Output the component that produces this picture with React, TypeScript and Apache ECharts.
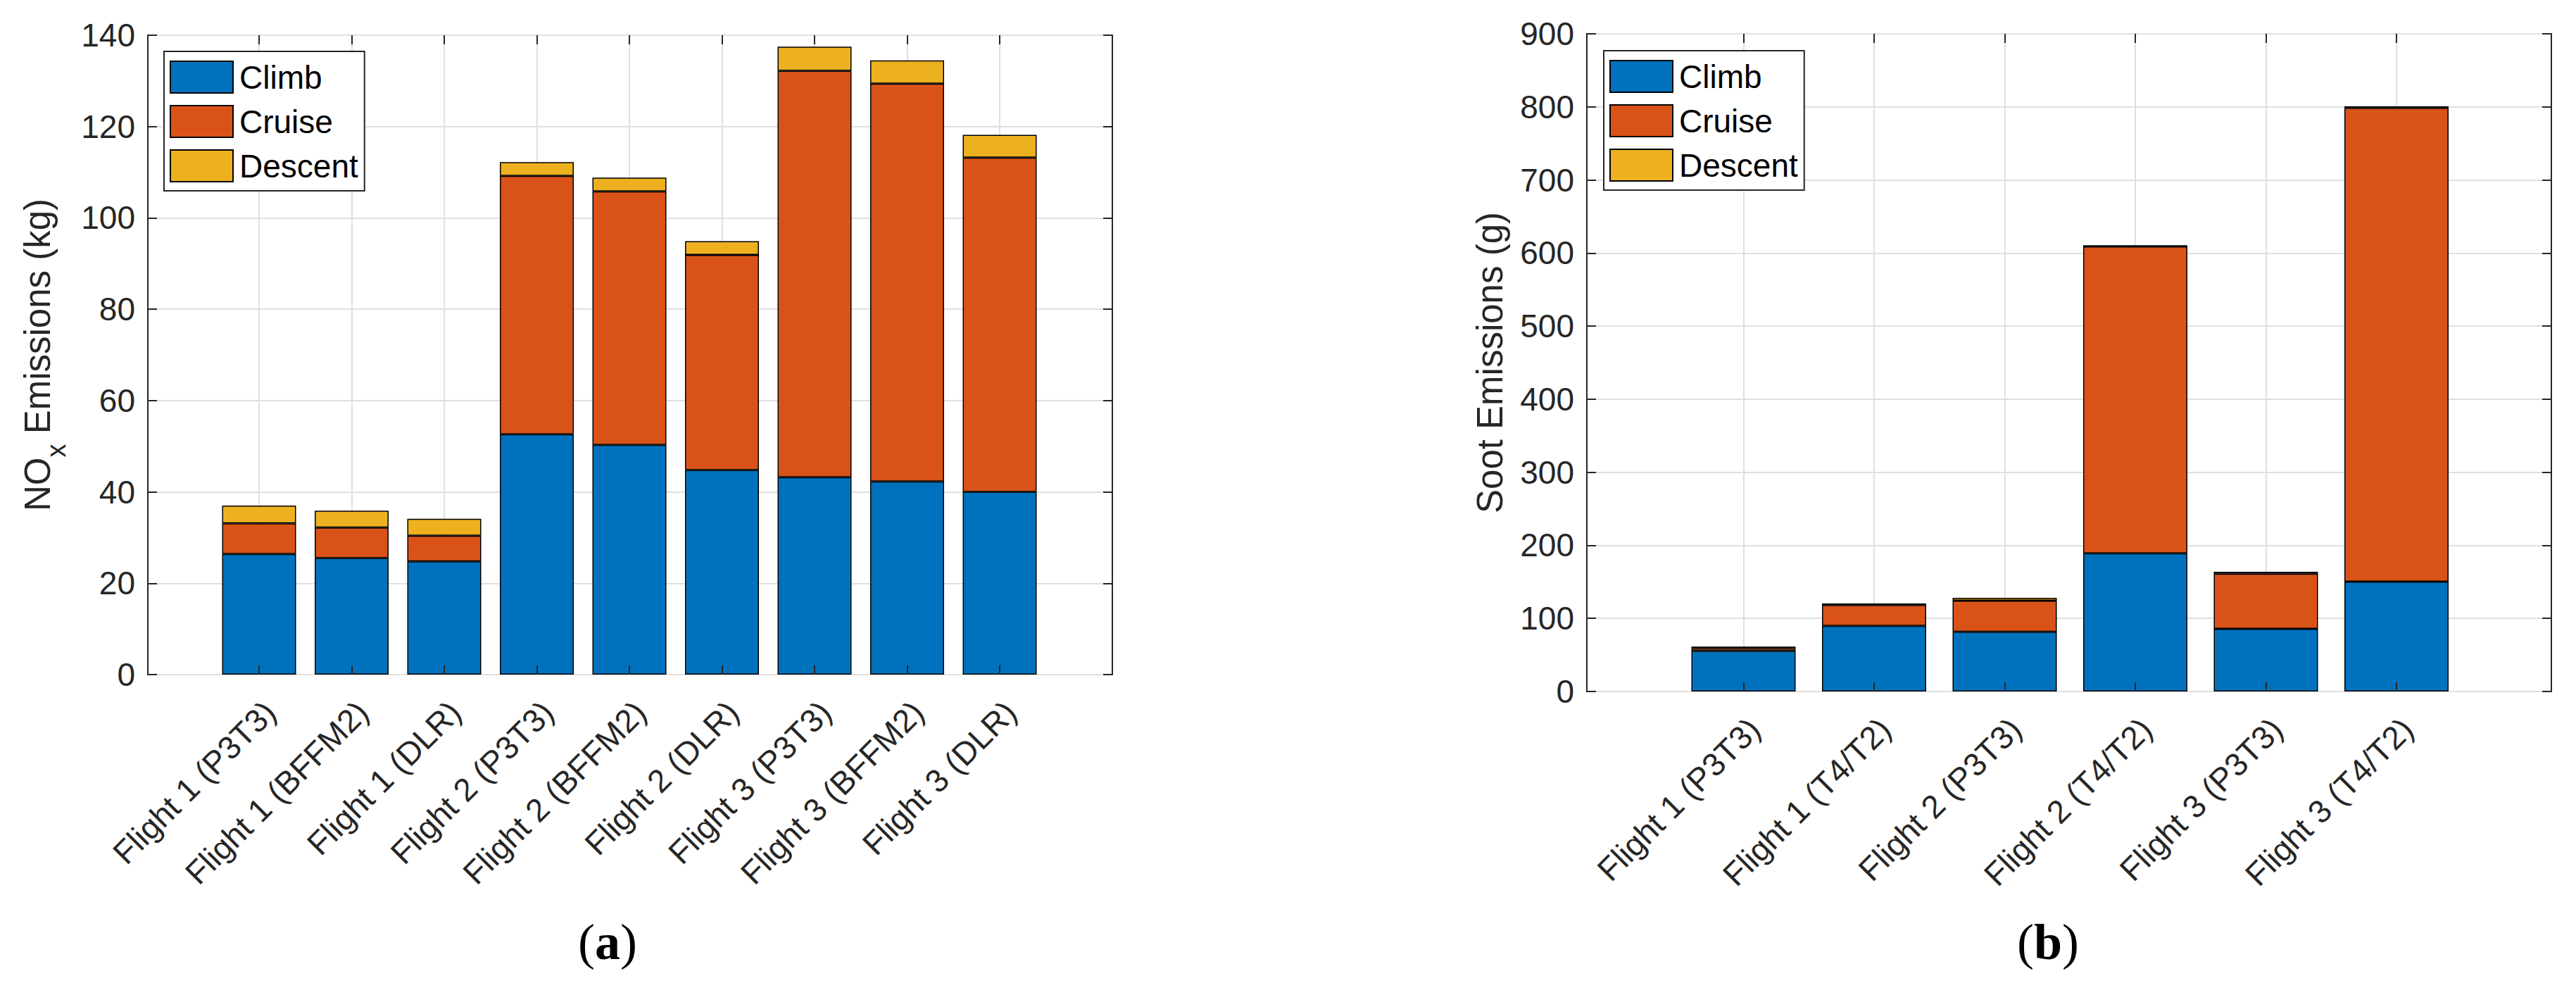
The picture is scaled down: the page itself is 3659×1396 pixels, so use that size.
import { useEffect, useRef } from 'react';
import * as echarts from 'echarts';

// ---------- data ----------
const phaseNames = ['Climb', 'Cruise', 'Descent'];
const phaseColors = ['#0072BD', '#D95319', '#EDB120'];

const noxCategories = [
  'Flight 1 (P3T3)', 'Flight 1 (BFFM2)', 'Flight 1 (DLR)',
  'Flight 2 (P3T3)', 'Flight 2 (BFFM2)', 'Flight 2 (DLR)',
  'Flight 3 (P3T3)', 'Flight 3 (BFFM2)', 'Flight 3 (DLR)',
];
const noxClimb = [26.4, 25.5, 24.8, 52.6, 50.3, 44.8, 43.2, 42.3, 40.0];
const noxCruise = [6.7, 6.7, 5.6, 56.6, 55.5, 47.1, 89.0, 87.1, 73.2];
const noxDescent = [3.9, 3.7, 3.7, 3.0, 3.0, 3.0, 5.3, 5.1, 5.0];
const noxAxis = { min: 0, max: 140, interval: 20 };

const sootCategories = [
  'Flight 1 (P3T3)', 'Flight 1 (T4/T2)', 'Flight 2 (P3T3)',
  'Flight 2 (T4/T2)', 'Flight 3 (P3T3)', 'Flight 3 (T4/T2)',
];
const sootClimb = [55.6, 89.9, 81.6, 189.2, 85.8, 150.3];
const sootCruise = [3.8, 28.3, 42.7, 419.8, 75.4, 648.2];
const sootDescent = [2.0, 2.2, 3.9, 1.6, 2.6, 2.2];
const sootAxis = { min: 0, max: 900, interval: 100 };

// ---------- styling ----------
const FONT = 'Liberation Sans';
const AX = '#262626';
const GRIDC = '#dfdfdf';

function buildPanel(p: number, cfg: any, opt: any) {
  const g = p * 3;
  const xa = p * 4;
  const ya = p * 4;
  const box = { top: cfg.top, height: cfg.height };
  opt.grid.push(
    { ...box, left: cfg.frameLeft, width: cfg.frameWidth, show: true, borderColor: AX, borderWidth: 2, backgroundColor: 'transparent' },
    { ...box, left: cfg.dataLeft, width: cfg.dataWidth },
    { ...box, left: cfg.dataLeft, width: cfg.dataWidth, z: 10 },
  );
  const tickStyle = { color: AX, width: 2 };
  opt.xAxis.push(
    { gridIndex: g, type: 'value', min: 0, max: 1, show: false },
    {
      gridIndex: g + 1, type: 'category', data: cfg.categories, boundaryGap: false, position: 'bottom',
      axisLine: { show: false }, axisTick: { show: false },
      splitLine: { show: true, interval: 0, lineStyle: { color: GRIDC, width: 2 } },
      axisLabel: {
        interval: 0, rotate: 45, fontSize: 46, color: AX, fontFamily: FONT, margin: 30,
        align: 'right', verticalAlign: 'top', lineHeight: 44,
      },
    },
    {
      gridIndex: g + 2, type: 'category', data: cfg.categories, boundaryGap: false, position: 'bottom', z: 10,
      axisLine: { show: false },
      axisTick: { show: true, inside: true, length: 13, interval: 0, lineStyle: tickStyle },
      axisLabel: { show: false }, splitLine: { show: false },
    },
    {
      gridIndex: g + 2, type: 'category', data: cfg.categories, boundaryGap: false, position: 'top', z: 10,
      axisLine: { show: false },
      axisTick: { show: true, inside: true, length: 13, interval: 0, lineStyle: tickStyle },
      axisLabel: { show: false }, splitLine: { show: false },
    },
  );
  const range = { min: cfg.axis.min, max: cfg.axis.max, interval: cfg.axis.interval };
  opt.yAxis.push(
    {
      gridIndex: g, type: 'value', ...range, position: 'left',
      axisLine: { show: false },
      axisTick: { show: true, inside: true, length: 13, lineStyle: tickStyle },
      axisLabel: { fontSize: 46, color: AX, fontFamily: FONT, margin: 18 },
      splitLine: { show: true, lineStyle: { color: GRIDC, width: 2 } },
      name: cfg.yName, nameLocation: 'middle', nameRotate: 90, nameGap: cfg.nameGap, nameMoveOverlap: false,
      nameTextStyle: { fontSize: 51, color: AX, fontFamily: FONT, rich: cfg.rich },
    },
    {
      gridIndex: g, type: 'value', ...range, position: 'right',
      axisLine: { show: false },
      axisTick: { show: true, inside: true, length: 13, lineStyle: tickStyle },
      axisLabel: { show: false }, splitLine: { show: false },
    },
    { gridIndex: g + 1, type: 'value', ...range, show: false },
    { gridIndex: g + 2, type: 'value', ...range, show: false },
  );
  cfg.values.forEach((vals: number[], k: number) => {
    opt.series.push({
      type: 'bar', name: phaseNames[k], xAxisIndex: xa + 1, yAxisIndex: ya + 2,
      stack: 'p' + p, data: vals, barWidth: cfg.barWidth, clip: false,
      itemStyle: { color: phaseColors[k], borderColor: '#000', borderWidth: 1.5 },
    });
  });
  opt.legend.push({
    data: phaseNames, left: cfg.legendLeft, top: cfg.legendTop, orient: 'vertical',
    itemWidth: 89, itemHeight: 45, itemGap: 16, padding: [13, 9, 12, 8],
    borderColor: AX, borderWidth: 2, backgroundColor: '#fff', icon: 'rect', selectedMode: false, z: 20,
    textStyle: { fontSize: 46, color: '#000', fontFamily: FONT, lineHeight: 45, padding: [0, 0, 0, 4] },
  });
}

function panelLabel(letter: string, x: number) {
  return {
    type: 'text', x, y: 1338, z: 30,
    style: {
      text: `{p|(}{q|${letter}}{p|)}`, align: 'center', verticalAlign: 'middle',
      rich: {
        p: { fontSize: 72, fontFamily: 'Liberation Serif', fill: '#000' },
        q: { fontSize: 72, fontFamily: 'Liberation Serif', fontWeight: 'bold', fill: '#000' },
      },
    },
  };
}

export default function App() {
  const ref = useRef<HTMLDivElement>(null);
  useEffect(() => {
    document.body.style.margin = '0';
    if (!ref.current) return;
    const chart = echarts.init(ref.current, undefined, { renderer: 'svg' });
    const opt: any = {
      animation: false,
      backgroundColor: '#fff',
      grid: [], xAxis: [], yAxis: [], series: [], legend: [],
    };
    buildPanel(0, {
      frameLeft: 210, frameWidth: 1370, dataLeft: 368, dataWidth: 1052, top: 50, height: 908,
      categories: noxCategories, values: [noxClimb, noxCruise, noxDescent], axis: noxAxis,
      barWidth: 105, legendLeft: 233, legendTop: 73, nameGap: 111,
      yName: '{a|NO}{b|x}{a| Emissions (kg)}',
      rich: {
        a: { fontSize: 51, verticalAlign: 'top', color: AX, fontFamily: FONT },
        b: { fontSize: 38, padding: [33, 0, 0, 0], verticalAlign: 'top', color: AX, fontFamily: FONT },
      },
    }, opt);
    buildPanel(1, {
      frameLeft: 2254, frameWidth: 1370, dataLeft: 2476.5, dataWidth: 927.5, top: 48, height: 934,
      categories: sootCategories, values: [sootClimb, sootCruise, sootDescent], axis: sootAxis,
      barWidth: 148, legendLeft: 2278, legendTop: 72, nameGap: 112,
      yName: 'Soot Emissions (g)',
      rich: undefined,
    }, opt);
    opt.graphic = [panelLabel('a', 863), panelLabel('b', 2909)];
    chart.setOption(opt);
    return () => chart.dispose();
  }, []);
  return <div ref={ref} style={{ width: '3659px', height: '1396px' }} />;
}
